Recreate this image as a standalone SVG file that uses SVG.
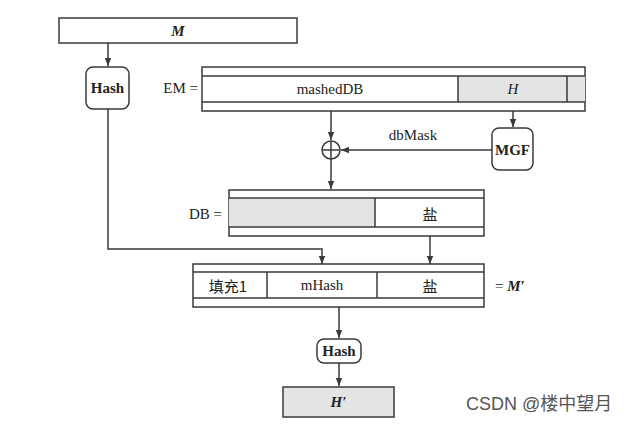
<svg xmlns="http://www.w3.org/2000/svg" width="634" height="427" viewBox="0 0 634 427">
<defs>
<style>
.ln{stroke:#3a3a3a;stroke-width:1.5;fill:none}
.bx{stroke:#3a3a3a;stroke-width:1.5;fill:#fff}
.gb{stroke:#3a3a3a;stroke-width:1.5;fill:#e4e4e4}
.gr{fill:#e4e4e4;stroke:none}
.rb{stroke:#3a3a3a;stroke-width:1.5;fill:#fff}
.t{font-family:"Liberation Serif","Noto Sans CJK SC",serif;font-size:15px;fill:#222;text-anchor:middle;dominant-baseline:central}
.e{text-anchor:end}
.s{text-anchor:start}
.b{font-weight:bold}
.i{font-style:italic;font-weight:bold}
.cj{font-family:"Noto Sans CJK SC",serif;font-size:15px;fill:#222;text-anchor:middle;dominant-baseline:central}
</style>
<marker id="ah" viewBox="0 0 10 10" refX="10" refY="5" markerWidth="8" markerHeight="8" markerUnits="userSpaceOnUse" orient="auto">
<path d="M0,1 L10,5 L0,9 Z" fill="#3a3a3a"/>
</marker>
</defs>
<rect width="634" height="427" fill="#fff"/>

<g id="connectors">
<line class="ln" x1="108" y1="43" x2="108" y2="66" marker-end="url(#ah)"/>
<polyline class="ln" points="108,109 108,249 322,249 322,264" marker-end="url(#ah)"/>
<line class="ln" x1="331" y1="111" x2="331" y2="140" marker-end="url(#ah)"/>
<line class="ln" x1="331" y1="159" x2="331" y2="189" marker-end="url(#ah)"/>
<line class="ln" x1="513" y1="111" x2="513" y2="127" marker-end="url(#ah)"/>
<line class="ln" x1="492" y1="150" x2="341" y2="150" marker-end="url(#ah)"/>
<text class="t" x="413" y="135">dbMask</text>
<line class="ln" x1="430" y1="236" x2="430" y2="264" marker-end="url(#ah)"/>
<line class="ln" x1="339" y1="307" x2="339" y2="338" marker-end="url(#ah)"/>
<line class="ln" x1="339" y1="363" x2="339" y2="386" marker-end="url(#ah)"/>
</g>

<g id="M">
<rect class="bx" x="59" y="18" width="238" height="25"/>
<text class="t i" x="178" y="31">M</text>
</g>

<g id="hash1">
<rect class="rb" x="86" y="67" width="43" height="42" rx="7"/>
<text class="t b" x="107.500" y="88">Hash</text>
</g>

<g id="EM">
<text class="t e" x="198" y="88">EM =</text>
<rect class="bx" x="202" y="67" width="383" height="44"/>
<rect class="gr" x="458" y="76" width="127" height="26"/>
<line class="ln" x1="202" y1="76" x2="585" y2="76"/>
<line class="ln" x1="202" y1="102" x2="585" y2="102"/>
<line class="ln" x1="458" y1="76" x2="458" y2="102"/>
<line class="ln" x1="567" y1="76" x2="567" y2="102"/>
<text class="t" x="330" y="89">mashedDB</text>
<text class="t" x="513" y="89" font-style="italic">H</text>
</g>

<g id="xor">
<circle class="ln" cx="331" cy="150" r="9" fill="#fff"/>
<line class="ln" x1="322" y1="150" x2="340" y2="150"/>
<line class="ln" x1="331" y1="141" x2="331" y2="159"/>
</g>

<g id="MGF">
<rect class="rb" x="492" y="128" width="41" height="42" rx="7"/>
<text class="t b" x="512.500" y="150">MGF</text>
</g>

<g id="DB">
<text class="t e" x="222" y="214">DB =</text>
<rect class="bx" x="229" y="190" width="255" height="46"/>
<rect class="gr" x="229" y="198" width="146" height="29"/>
<line class="ln" x1="229" y1="198" x2="484" y2="198"/>
<line class="ln" x1="229" y1="227" x2="484" y2="227"/>
<line class="ln" x1="375" y1="198" x2="375" y2="227"/>
<text class="cj" x="430" y="213">盐</text>
</g>

<g id="Mprime">
<rect class="bx" x="193" y="264" width="291" height="43"/>
<line class="ln" x1="193" y1="272" x2="484" y2="272"/>
<line class="ln" x1="193" y1="298" x2="484" y2="298"/>
<line class="ln" x1="267" y1="272" x2="267" y2="298"/>
<line class="ln" x1="377" y1="272" x2="377" y2="298"/>
<text class="cj" x="228" y="285">填充1</text>
<text class="t" x="322" y="285">mHash</text>
<text class="cj" x="430" y="285">盐</text>
<text class="t s" x="495" y="286">= <tspan font-style="italic" font-weight="bold">M′</tspan></text>
</g>

<g id="hash2">
<rect class="rb" x="317" y="339" width="44" height="24" rx="7"/>
<text class="t b" x="339" y="351">Hash</text>
</g>

<g id="Hprime">
<rect class="gb" x="283" y="387" width="111" height="30"/>
<text class="t i" x="338.500" y="402">H′</text>
</g>

<text x="466" y="410" font-family="Liberation Sans,'Noto Sans CJK SC',sans-serif" font-size="18" fill="#555">CSDN @楼中望月</text>
</svg>
